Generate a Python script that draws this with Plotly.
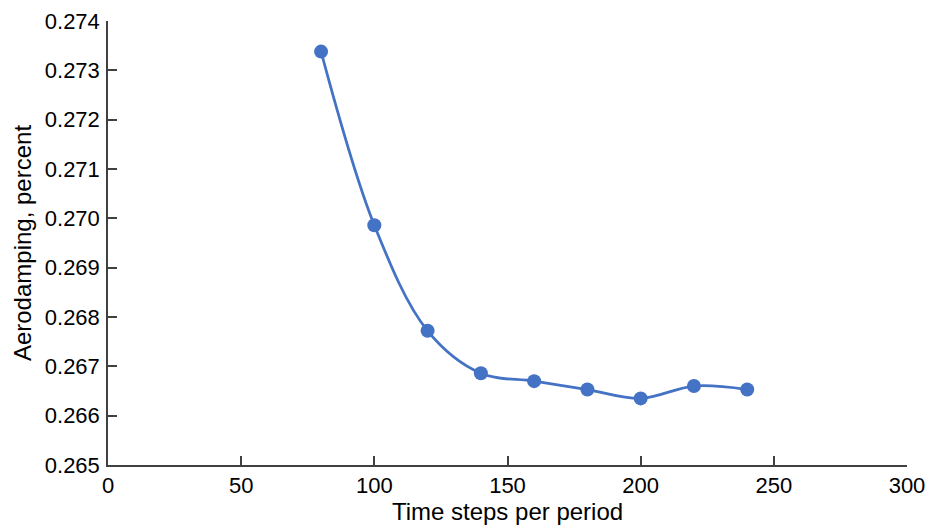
import plotly.graph_objects as go

# Aerodamping convergence versus time-step resolution
time_steps = [80, 100, 120, 140, 160, 180, 200, 220, 240]
aerodamping = [0.27338, 0.26986, 0.26772, 0.26686, 0.26670, 0.26653, 0.26635, 0.26660, 0.26653]

x_ticks = [0, 50, 100, 150, 200, 250, 300]
y_ticks = [0.265, 0.266, 0.267, 0.268, 0.269, 0.270, 0.271, 0.272, 0.273, 0.274]

blue = "#4472C4"
axis_color = "#404040"
font_family = "Liberation Sans, Arial, sans-serif"

fig = go.Figure(
    go.Scatter(
        x=time_steps,
        y=aerodamping,
        mode="lines+markers",
        line=dict(color=blue, width=2.75, shape="spline", smoothing=1.0),
        marker=dict(color=blue, size=14),
        cliponaxis=False,
        showlegend=False,
    )
)

fig.update_layout(
    width=933,
    height=527,
    margin=dict(l=108, r=26, t=21, b=62, autoexpand=False),
    paper_bgcolor="white",
    plot_bgcolor="white",
    font=dict(family=font_family, size=22, color="black"),
)

fig.update_xaxes(
    range=[0, 300],
    tickvals=x_ticks,
    ticktext=[str(v) for v in x_ticks],
    tickfont=dict(size=22),
    ticks="inside",
    ticklen=9,
    tickwidth=1.5,
    tickcolor=axis_color,
    showline=True,
    linecolor=axis_color,
    linewidth=1.5,
    showgrid=False,
    zeroline=False,
    automargin=False,
    ticklabelstandoff=0,
    title=dict(text="Time steps per period", standoff=0,
               font=dict(size=24, family=font_family)),
)

fig.update_yaxes(
    range=[0.265, 0.274],
    tickvals=y_ticks,
    ticktext=[f"{v:.3f}" for v in y_ticks],
    tickfont=dict(size=22),
    ticks="inside",
    ticklen=9,
    tickwidth=1.5,
    tickcolor=axis_color,
    showline=True,
    linecolor=axis_color,
    linewidth=1.5,
    showgrid=False,
    zeroline=False,
    automargin=False,
    ticklabelstandoff=2,
    title=dict(text="Aerodamping, percent", standoff=6,
               font=dict(size=24, family=font_family)),
)

fig.write_html("out.html")
